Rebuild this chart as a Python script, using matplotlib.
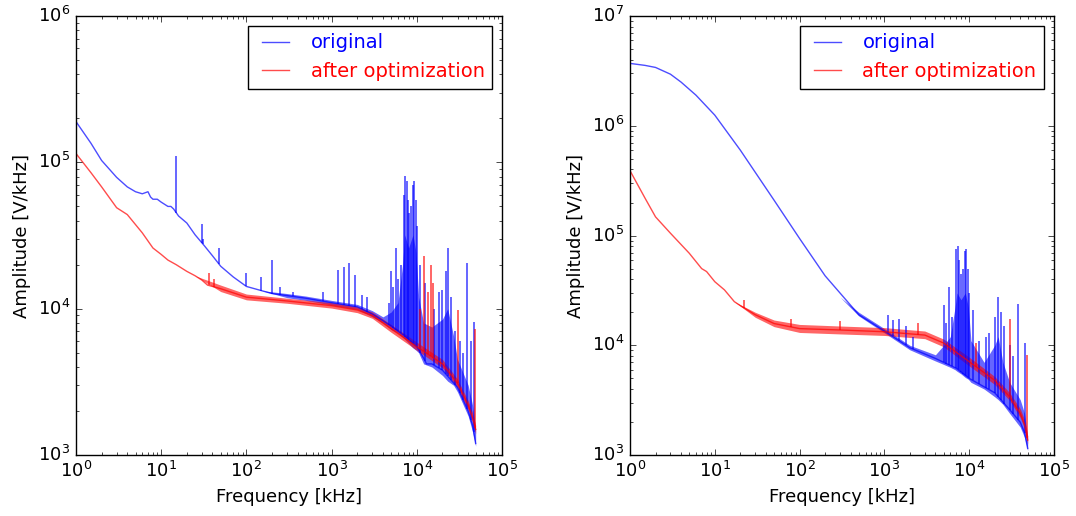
import numpy as np
import matplotlib
matplotlib.use("Agg")
import matplotlib.pyplot as plt

plt.style.use("classic")

# ---------------- left panel ----------------
# smooth trace (median of the spectrum), blue = original
l_blue_f = [1, 1.5, 2, 3, 4, 5, 6, 7, 7.5, 8, 9, 10, 12, 13, 14, 16, 20, 25, 32, 40, 50, 70, 100,
            150, 200, 300, 500, 1000, 2000, 3000, 4000, 5000, 7000, 10000, 12000, 13000, 15000,
            20000, 30000, 40000, 45000, 49000]
l_blue_a = [1.9e5, 1.35e5, 1.03e5, 7.9e4, 6.8e4, 6.3e4, 6.1e4, 6.3e4, 5.8e4, 5.6e4, 5.6e4, 5.35e4,
            5.0e4, 5.0e4, 4.8e4, 4.3e4, 3.85e4, 3.2e4, 2.7e4, 2.3e4, 1.95e4, 1.65e4, 1.42e4,
            1.33e4, 1.27e4, 1.23e4, 1.18e4, 1.1e4, 1.03e4, 9.2e3, 8.3e3, 7.6e3, 6.6e3, 5.5e3, 4.6e3,
            4.2e3, 4.2e3, 3.8e3, 2.9e3, 2.0e3, 1.6e3, 1.2e3]
# noise band of the blue trace
l_blue_band_f = [150, 300, 500, 1000, 2000, 3000, 4000, 5000, 6000, 6800, 7200, 8000, 9000, 9800,
                 10500, 12000, 15000, 20000, 23000, 27000, 30000, 40000, 45000, 49000]
l_blue_lo = [1.33e4, 1.19e4, 1.14e4, 1.06e4, 9.9e3, 8.8e3, 8.0e3, 7.2e3, 6.8e3, 6.4e3, 6.2e3, 5.8e3,
             5.4e3, 5.2e3, 5.0e3, 4.2e3, 4.0e3, 3.5e3, 3.2e3, 3.0e3, 2.7e3, 1.85e3, 1.45e3, 1.15e3]
l_blue_hi = [1.33e4, 1.27e4, 1.22e4, 1.14e4, 1.07e4, 9.7e3, 8.8e3, 9.5e3, 1.1e4, 2.0e4, 3.2e4, 2.6e4,
             3.2e4, 2.4e4, 1.2e4, 8.0e3, 7.5e3, 8.5e3, 1.0e4, 6.5e3, 4.5e3, 3.0e3, 2.2e3, 1.5e3]
# narrow spikes of the blue trace
l_blue_spk_f = [15, 30, 31, 48, 100, 150, 200, 250, 350, 800, 1200, 1400, 1600, 1900, 2300, 2600,
                4700, 5000, 5300, 5700, 6000, 6500, 7000, 7300, 7600, 7900, 8200, 8600, 9000, 9300,
                9700, 10000, 11000, 12500, 16000, 18000, 20000, 22000, 23000, 25000, 28000,
                32000, 35000, 39000, 43000, 46500]
l_blue_spk_a = [1.1e5, 3.8e4, 3.0e4, 2.6e4, 1.75e4, 1.65e4, 2.15e4, 1.4e4, 1.3e4, 1.3e4, 1.85e4,
                1.93e4, 2.05e4, 1.7e4, 1.25e4, 1.2e4,
                1.1e4, 1.8e4, 1.4e4, 2.6e4, 1.6e4, 2.0e4, 6.0e4, 8.1e4, 7.5e4, 5.5e4, 4.5e4, 5.0e4,
                7.0e4, 7.5e4, 5.5e4, 3.7e4, 2.0e4, 1.5e4, 1.0e4, 1.3e4, 1.35e4, 1.8e4, 2.6e4, 1.2e4,
                7e3, 6e3, 5e3, 2.05e4, 6e3, 8.1e3]

# red = after optimization
l_red_f = [1, 1.5, 2, 3, 4, 6, 8, 10, 12, 15, 20, 25, 30, 35, 50, 100, 300, 1000, 2000, 3000,
           5000, 10000, 20000, 30000, 40000, 45000, 49000]
l_red_a = [1.15e5, 8.5e4, 6.8e4, 4.9e4, 4.4e4, 3.3e4, 2.6e4, 2.35e4, 2.15e4, 2.0e4, 1.8e4,
           1.68e4, 1.57e4, 1.45e4, 1.37e4, 1.2e4, 1.13e4, 1.05e4, 9.8e3, 9.0e3, 7.3e3, 5.5e3,
           4.2e3, 3.1e3, 2.2e3, 1.8e3, 1.5e3]
l_red_band_f = [25, 50, 100, 300, 1000, 2000, 3000, 5000, 10000, 20000, 30000, 40000, 45000, 49000]
l_red_lo = [1.68e4, 1.31e4, 1.15e4, 1.09e4, 1.01e4, 9.4e3, 8.6e3, 6.9e3, 5.2e3, 3.95e3, 2.9e3,
            2.05e3, 1.7e3, 1.4e3]
l_red_hi = [1.68e4, 1.45e4, 1.26e4, 1.18e4, 1.1e4, 1.03e4, 9.5e3, 7.8e3, 5.9e3, 4.5e3, 3.3e3,
            2.35e3, 1.95e3, 1.6e3]
l_red_spk_f = [36, 42, 11000, 12000, 13500, 14500, 15500, 30000, 48500]
l_red_spk_a = [1.75e4, 1.6e4, 1.0e4, 2.3e4, 1.3e4, 2.0e4, 1.5e4, 9.8e3, 7.3e3]

# ---------------- right panel ----------------
r_blue_f = [1, 1.5, 2, 3, 4, 6, 10, 20, 50, 100, 200, 500, 1000, 1500, 2000, 4000, 7000,
            10000, 20000, 30000, 40000, 45000, 49000]
r_blue_a = [3.7e6, 3.55e6, 3.4e6, 2.95e6, 2.5e6, 1.9e6, 1.25e6, 6.0e5, 2.1e5, 9.4e4, 4.3e4,
            1.9e4, 1.35e4, 1.1e4, 9.5e3, 7.6e3, 6.2e3, 5.0e3, 3.7e3, 2.6e3, 2.0e3, 1.6e3, 1.15e3]
r_blue_band_f = [300, 500, 1000, 2000, 4000, 5000, 6000, 6800, 7200, 8000, 9000, 9800, 10500, 15000,
                 20000, 22000, 25000, 30000, 40000, 45000, 49000]
r_blue_lo = [2.75e4, 1.85e4, 1.3e4, 9.1e3, 7.2e3, 6.7e3, 6.3e3, 6.0e3, 5.8e3, 5.5e3, 5.1e3, 4.9e3,
             4.6e3, 4.0e3, 3.4e3, 3.2e3, 2.9e3, 2.4e3, 1.8e3, 1.45e3, 1.1e3]
r_blue_hi = [2.75e4, 2.0e4, 1.42e4, 1.0e4, 8.2e3, 1.0e4, 1.2e4, 2.2e4, 3.0e4, 2.6e4, 3.0e4, 2.2e4,
             1.1e4, 7.0e3, 1.0e4, 1.2e4, 7.0e3, 4.6e3, 3.2e3, 2.4e3, 1.5e3]
r_blue_spk_f = [1100, 1250, 1500, 1800, 2200, 5000, 5400, 5800, 6200, 7000, 7300, 7600, 8000,
                8500, 8900, 9200, 9600, 10000, 11000, 13000, 16000, 17000, 20000, 22000, 24000,
                26000, 30000, 33000, 38000, 45000]
r_blue_spk_a = [1.9e4, 1.7e4, 1.75e4, 1.5e4, 1.2e4, 2.35e4, 1.6e4, 3.4e4, 1.8e4, 7.5e4, 8.1e4,
                6.0e4, 4.5e4, 5.0e4, 7.3e4, 7.6e4, 5.0e4, 3.0e4, 2.1e4, 1.1e4, 1.2e4, 1.3e4,
                1.8e4, 2.75e4, 2.0e4, 1.5e4, 1.0e4, 8e3, 2.4e4, 1.05e4]

r_red_f = [1, 1.5, 2, 3, 5, 7, 8, 10, 13, 17, 20, 30, 50, 100, 300, 1000, 3000, 5000, 10000,
           20000, 30000, 40000, 45000, 49000]
r_red_a = [3.9e5, 2.2e5, 1.48e5, 1.05e5, 6.9e4, 5.0e4, 4.7e4, 3.8e4, 3.2e4, 2.5e4, 2.3e4, 1.9e4,
           1.58e4, 1.42e4, 1.38e4, 1.33e4, 1.24e4, 1.05e4, 7.1e3, 4.8e3, 3.4e3, 2.4e3, 1.9e3, 1.37e3]
r_red_band_f = [17, 30, 50, 100, 300, 1000, 3000, 5000, 10000, 20000, 30000, 40000, 45000, 49000]
r_red_lo = [2.5e4, 1.8e4, 1.48e4, 1.31e4, 1.27e4, 1.23e4, 1.15e4, 9.7e3, 6.5e3, 4.4e3, 3.15e3,
            2.2e3, 1.75e3, 1.27e3]
r_red_hi = [2.5e4, 2.0e4, 1.7e4, 1.55e4, 1.5e4, 1.45e4, 1.35e4, 1.14e4, 7.8e3, 5.2e3, 3.7e3,
            2.65e3, 2.1e3, 1.5e3]
r_red_spk_f = [22, 80, 300, 2500, 12000, 30000, 48500]
r_red_spk_a = [2.6e4, 1.75e4, 1.65e4, 1.6e4, 1.05e4, 1.75e4, 8.2e3]


def draw_trace(ax, f, a, band_f, lo, hi, spk_f, spk_a, color, label):
    ax.plot(f, a, color=color, alpha=0.7, lw=1, label=label)
    ax.fill_between(band_f, lo, hi, color=color, alpha=0.6, lw=0)
    base = 10 ** np.interp(np.log10(spk_f), np.log10(f), np.log10(a))
    ax.vlines(spk_f, base, spk_a, colors=color, alpha=0.7, lw=1.2)


def style(ax, ymax):
    ax.set_xscale("log")
    ax.set_yscale("log")
    ax.set_xlim(1, 1e5)
    ax.set_ylim(1e3, ymax)
    ax.set_xlabel("Frequency [kHz]", fontsize=13)
    ax.set_ylabel("Amplitude [V/kHz]", fontsize=13)
    ax.tick_params(labelsize=13)
    leg = ax.legend(loc="upper right", fontsize=14, handlelength=2)
    for txt, line in zip(leg.get_texts(), leg.get_lines()):
        txt.set_color(line.get_color())


fig = plt.figure(figsize=(10.76, 5.16), dpi=100, facecolor="white")
ax1 = fig.add_axes([0.0706, 0.118, 0.396, 0.851])
ax2 = fig.add_axes([0.5855, 0.118, 0.394, 0.851])

draw_trace(ax1, l_blue_f, l_blue_a, l_blue_band_f, l_blue_lo, l_blue_hi,
           l_blue_spk_f, l_blue_spk_a, "b", "original")
draw_trace(ax1, l_red_f, l_red_a, l_red_band_f, l_red_lo, l_red_hi,
           l_red_spk_f, l_red_spk_a, "r", "after optimization")
style(ax1, 1e6)

draw_trace(ax2, r_blue_f, r_blue_a, r_blue_band_f, r_blue_lo, r_blue_hi,
           r_blue_spk_f, r_blue_spk_a, "b", "original")
draw_trace(ax2, r_red_f, r_red_a, r_red_band_f, r_red_lo, r_red_hi,
           r_red_spk_f, r_red_spk_a, "r", "after optimization")
style(ax2, 1e7)

fig.savefig("out.png", dpi=100, facecolor="white")
